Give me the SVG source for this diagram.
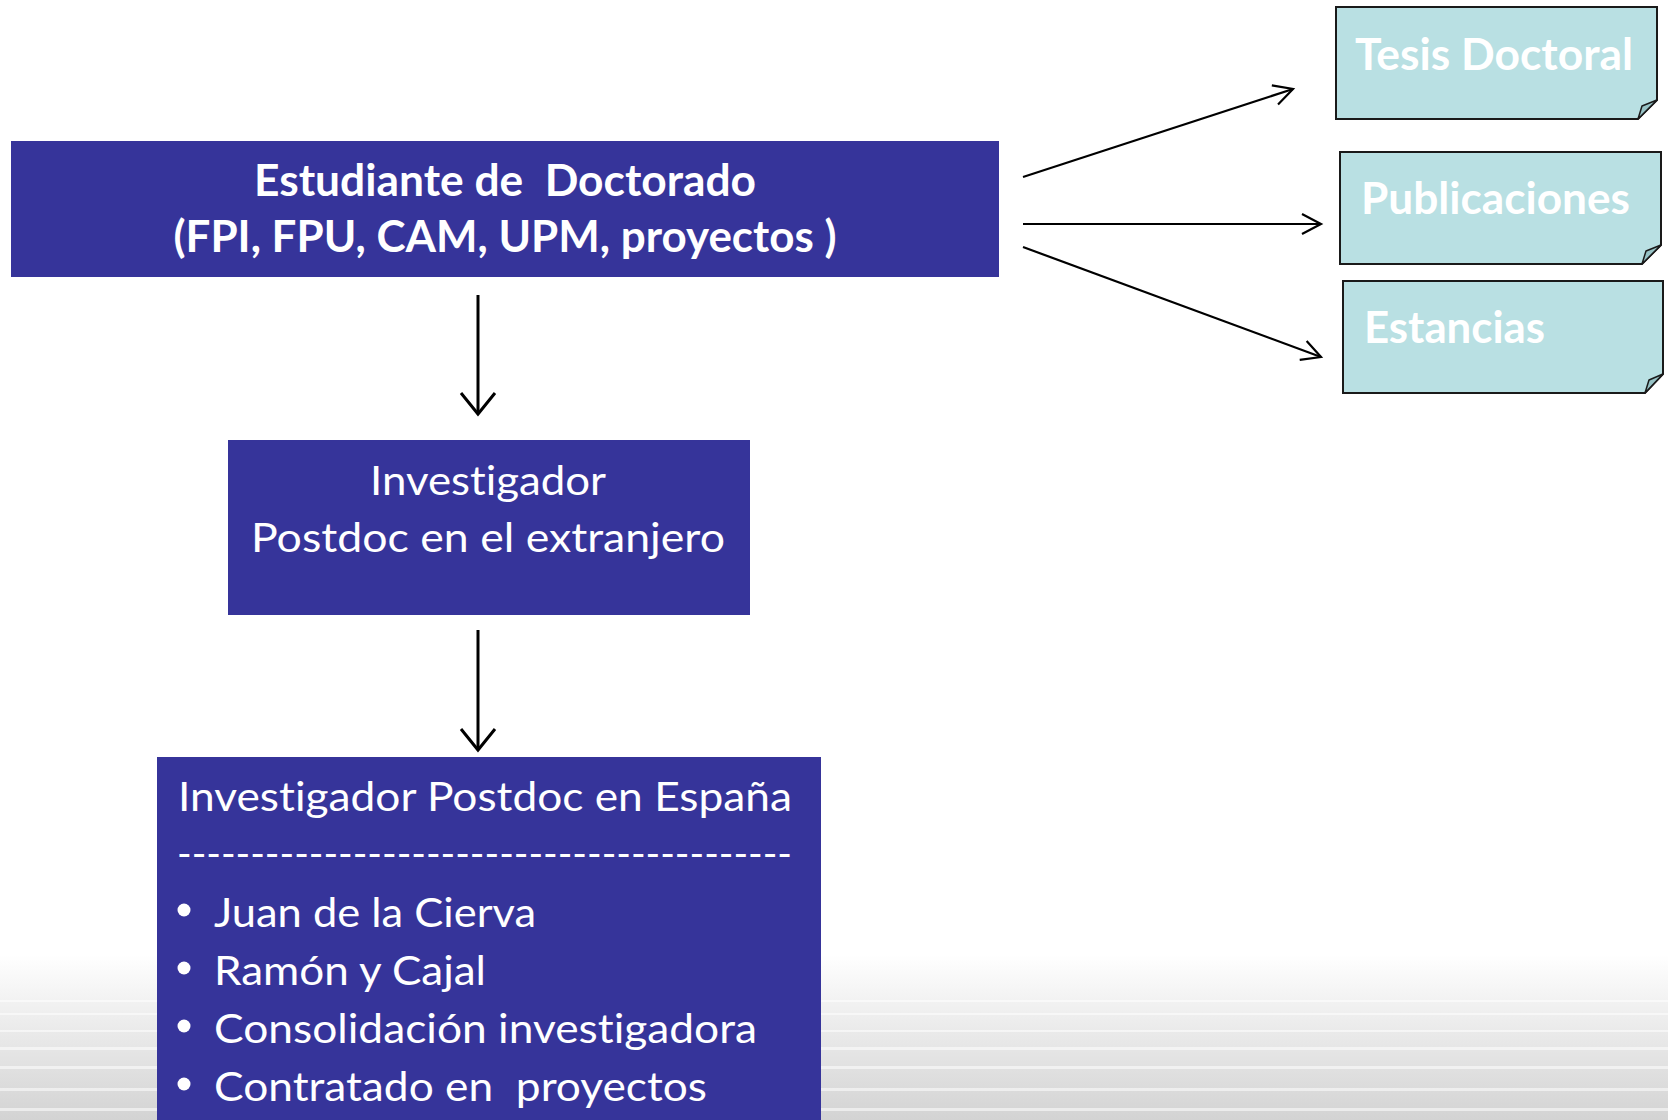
<svg xmlns="http://www.w3.org/2000/svg" width="1668" height="1120" viewBox="0 0 1668 1120">
  <style>
    .box { fill: #36349a; }
    .note { fill: #b9e0e3; stroke: #1a1a1a; stroke-width: 2; }
    .fold { fill: #97c3c6; stroke: #1a1a1a; stroke-width: 1.5; stroke-linejoin: round; }
    .t { font-family: Lato, "Liberation Sans", sans-serif; fill: #ffffff; font-variant-ligatures: none; }
    .b { font-weight: bold; font-size: 43px; }
    .r { font-weight: normal; font-size: 40px; }
    .nt { font-weight: bold; font-size: 43px; }
    .con { stroke: #000; fill: none; }
    .streak { fill: #ffffff; }
  </style>
  <defs>
    <linearGradient id="bg" x1="0" y1="0" x2="0" y2="1">
      <stop offset="0" stop-color="#ffffff"/>
      <stop offset="0.3" stop-color="#f1f1f1"/>
      <stop offset="1" stop-color="#d3d3d3"/>
    </linearGradient>
    <marker id="ahR" markerUnits="userSpaceOnUse" markerWidth="40" markerHeight="40" viewBox="-25 -20 30 40" refX="0" refY="0" orient="auto">
      <path d="M-19,-10 L0,0 L-19,10" fill="none" stroke="#000" stroke-width="2.2" stroke-linejoin="miter"/>
    </marker>
    <marker id="ahD" markerUnits="userSpaceOnUse" markerWidth="50" markerHeight="50" viewBox="-28 -25 32 50" refX="0" refY="0" orient="auto">
      <path d="M-21,-17 L0,0 L-21,17" fill="none" stroke="#000" stroke-width="3"/>
    </marker>
  </defs>

  <!-- background -->
  <rect x="0" y="0" width="1668" height="1120" fill="#ffffff"/>
  <rect x="0" y="955" width="1668" height="165" fill="url(#bg)"/>
  <g opacity="0.55">
    <rect class="streak" x="0" y="1000" width="1668" height="2"/>
    <rect class="streak" x="0" y="1013" width="1668" height="2"/>
    <rect class="streak" x="0" y="1030" width="1668" height="2"/>
    <rect class="streak" x="0" y="1047" width="1668" height="3"/>
    <rect class="streak" x="0" y="1066" width="1668" height="3"/>
    <rect class="streak" x="0" y="1088" width="1668" height="3"/>
    <rect class="streak" x="0" y="1108" width="1668" height="3"/>
  </g>

  <!-- connectors -->
  <g id="connectors">
    <line class="con" x1="1023" y1="177" x2="1293" y2="89" stroke-width="2.2" marker-end="url(#ahR)"/>
    <line class="con" x1="1023" y1="224" x2="1321" y2="224" stroke-width="2.2" marker-end="url(#ahR)"/>
    <line class="con" x1="1023" y1="247" x2="1321" y2="357" stroke-width="2.2" marker-end="url(#ahR)"/>
    <line class="con" x1="478" y1="295" x2="478" y2="414" stroke-width="3" marker-end="url(#ahD)"/>
    <line class="con" x1="478" y1="630" x2="478" y2="750" stroke-width="3" marker-end="url(#ahD)"/>
  </g>

  <!-- nodes -->
  <g id="estudiante">
    <rect class="box" x="11" y="141" width="988" height="136"/>
    <text class="t b" xml:space="preserve" x="505" y="196" text-anchor="middle" textLength="502" lengthAdjust="spacingAndGlyphs">Estudiante de  Doctorado</text>
    <text class="t b" x="505" y="252" text-anchor="middle" textLength="663" lengthAdjust="spacingAndGlyphs">(FPI, FPU, CAM, UPM, proyectos )</text>
  </g>

  <g id="postdoc-extranjero">
    <rect class="box" x="228" y="440" width="522" height="175"/>
    <text class="t r" x="488" y="495" text-anchor="middle" textLength="236" lengthAdjust="spacingAndGlyphs">Investigador</text>
    <text class="t r" x="488" y="552" text-anchor="middle" textLength="474" lengthAdjust="spacingAndGlyphs">Postdoc en el extranjero</text>
  </g>

  <g id="postdoc-espana">
    <rect class="box" x="157" y="757" width="664" height="370"/>
    <text class="t r" x="178" y="811" textLength="614" lengthAdjust="spacingAndGlyphs">Investigador Postdoc en España</text>
    <text class="t r" x="177" y="868" textLength="615" lengthAdjust="spacingAndGlyphs">------------------------------------------</text>
    <circle cx="184" cy="910" r="6.5" fill="#fff"/>
    <text class="t r" x="214" y="927" textLength="322" lengthAdjust="spacingAndGlyphs">Juan de la Cierva</text>
    <circle cx="184" cy="968" r="6.5" fill="#fff"/>
    <text class="t r" x="214" y="985" textLength="272" lengthAdjust="spacingAndGlyphs">Ramón y Cajal</text>
    <circle cx="184" cy="1026" r="6.5" fill="#fff"/>
    <text class="t r" x="214" y="1043" textLength="543" lengthAdjust="spacingAndGlyphs">Consolidación investigadora</text>
    <circle cx="184" cy="1084" r="6.5" fill="#fff"/>
    <text class="t r" xml:space="preserve" x="214" y="1101" textLength="493" lengthAdjust="spacingAndGlyphs">Contratado en  proyectos</text>
  </g>

  <g id="tesis">
    <path class="note" d="M1336,7 H1657 V100 L1638,119 H1336 Z"/>
    <path class="fold" d="M1638,119 L1642,106 L1657,100 Z"/>
    <text class="t nt" x="1355" y="70" textLength="278" lengthAdjust="spacingAndGlyphs">Tesis Doctoral</text>
  </g>

  <g id="publicaciones">
    <path class="note" d="M1340,152 H1661 V245 L1642,264 H1340 Z"/>
    <path class="fold" d="M1642,264 L1646,251 L1661,245 Z"/>
    <text class="t nt" x="1361" y="214" textLength="269" lengthAdjust="spacingAndGlyphs">Publicaciones</text>
  </g>

  <g id="estancias">
    <path class="note" d="M1343,281 H1663 V374 L1645,393 H1343 Z"/>
    <path class="fold" d="M1645,393 L1649,380 L1663,374 Z"/>
    <text class="t nt" x="1364" y="343" textLength="181" lengthAdjust="spacingAndGlyphs">Estancias</text>
  </g>
</svg>
